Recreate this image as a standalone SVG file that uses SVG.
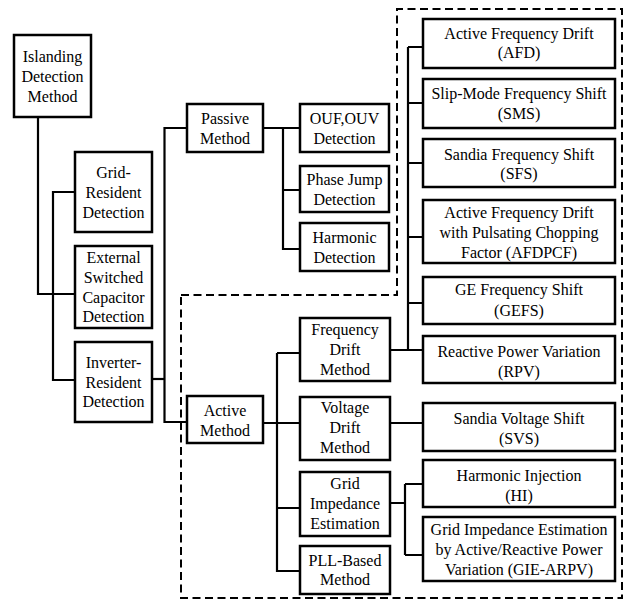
<svg xmlns="http://www.w3.org/2000/svg" width="625" height="603" viewBox="0 0 625 603">
<style>
.b{fill:#fff;stroke:#000;stroke-width:2.5}
.c{fill:none;stroke:#000;stroke-width:2.2}
.d{fill:none;stroke:#000;stroke-width:2;stroke-dasharray:8,4.5}
</style>
<rect width="625" height="603" fill="#fff"/>
<path class="d" d="M181,295 H397 V9 H622 V598 H181 Z"/>
<g id="connectors">
<path class="c" d="M38,117 V294 H75"/>
<path class="c" d="M75,192 H53 V380 H75"/>
<path class="c" d="M152,379 H164.5"/>
<path class="c" d="M187,128 H164.5 V422 H187"/>
<path class="c" d="M263,128 H300 M283,128 V249 H300 M283,190 H300"/>
<path class="c" d="M263,423 H300 M277,353 H300 M277,353 V571 H300 M277,508 H300"/>
<path class="c" d="M390,350 H423 M408,47 V350 M408,47 H423 M408,103 H423 M408,163 H423 M408,237 H423 M408,303 H423"/>
<path class="c" d="M390,423 H423"/>
<path class="c" d="M390,503 H405 M405,484 V555 M405,484 H423 M405,555 H423"/>
</g>
<g font-family="Times New Roman, Liberation Serif, serif" font-size="16" text-anchor="middle">
<g id="islanding"><rect class="b" x="14" y="35" width="77" height="82"/><text x="52.5" y="62">Islanding</text><text x="52.5" y="82">Detection</text><text x="52.5" y="102">Method</text></g>
<g id="grid-resident"><rect class="b" x="75" y="152" width="77" height="80"/><text x="113.5" y="178">Grid-</text><text x="113.5" y="198">Resident</text><text x="113.5" y="218">Detection</text></g>
<g id="external"><rect class="b" x="75" y="246" width="77" height="82"/><text x="113.5" y="263">External</text><text x="113.5" y="283">Switched</text><text x="113.5" y="303">Capacitor</text><text x="113.5" y="322">Detection</text></g>
<g id="inverter-resident"><rect class="b" x="75" y="342" width="77" height="80"/><text x="113.5" y="368">Inverter-</text><text x="113.5" y="388">Resident</text><text x="113.5" y="407">Detection</text></g>
<g id="passive"><rect class="b" x="187" y="104" width="76" height="48"/><text x="225" y="124">Passive</text><text x="225" y="144">Method</text></g>
<g id="ouf"><rect class="b" x="300" y="104" width="89" height="48"/><text x="344.5" y="124">OUF,OUV</text><text x="344.5" y="144">Detection</text></g>
<g id="phase-jump"><rect class="b" x="300" y="166" width="89" height="46"/><text x="344.5" y="185">Phase Jump</text><text x="344.5" y="205">Detection</text></g>
<g id="harmonic"><rect class="b" x="300" y="223" width="89" height="48"/><text x="344.5" y="243">Harmonic</text><text x="344.5" y="263">Detection</text></g>
<g id="active"><rect class="b" x="187" y="396" width="76" height="47"/><text x="225" y="416">Active</text><text x="225" y="436">Method</text></g>
<g id="freq-drift"><rect class="b" x="300" y="318" width="90" height="63"/><text x="345" y="335">Frequency</text><text x="345" y="355">Drift</text><text x="345" y="375">Method</text></g>
<g id="volt-drift"><rect class="b" x="300" y="397" width="90" height="63"/><text x="345" y="413">Voltage</text><text x="345" y="433">Drift</text><text x="345" y="453">Method</text></g>
<g id="grid-imp"><rect class="b" x="300" y="472" width="90" height="64"/><text x="345" y="489">Grid</text><text x="345" y="509">Impedance</text><text x="345" y="529">Estimation</text></g>
<g id="pll"><rect class="b" x="300" y="546" width="90" height="48"/><text x="345" y="566">PLL-Based</text><text x="345" y="585">Method</text></g>
<g id="afd"><rect class="b" x="423" y="19" width="192" height="49"/><text x="519" y="39">Active Frequency Drift</text><text x="519" y="58">(AFD)</text></g>
<g id="sms"><rect class="b" x="423" y="79" width="192" height="49"/><text x="519" y="99">Slip-Mode Frequency Shift</text><text x="519" y="119">(SMS)</text></g>
<g id="sfs"><rect class="b" x="423" y="139" width="192" height="48"/><text x="519" y="160">Sandia Frequency Shift</text><text x="519" y="179">(SFS)</text></g>
<g id="afdpcf"><rect class="b" x="423" y="200" width="192" height="63"/><text x="519" y="218">Active Frequency Drift</text><text x="519" y="238">with Pulsating Chopping</text><text x="519" y="258">Factor (AFDPCF)</text></g>
<g id="gefs"><rect class="b" x="423" y="277" width="192" height="47"/><text x="519" y="295">GE Frequency Shift</text><text x="519" y="316">(GEFS)</text></g>
<g id="rpv"><rect class="b" x="423" y="336" width="192" height="47"/><text x="519" y="357">Reactive Power Variation</text><text x="519" y="377">(RPV)</text></g>
<g id="svs"><rect class="b" x="423" y="403" width="192" height="48"/><text x="519" y="424">Sandia Voltage Shift</text><text x="519" y="444">(SVS)</text></g>
<g id="hi"><rect class="b" x="423" y="460" width="192" height="47"/><text x="519" y="481">Harmonic Injection</text><text x="519" y="501">(HI)</text></g>
<g id="gie-arpv"><rect class="b" x="423" y="517" width="192" height="64"/><text x="519" y="535">Grid Impedance Estimation</text><text x="519" y="555">by Active/Reactive Power</text><text x="519" y="575">Variation (GIE-ARPV)</text></g>
</g>
</svg>
